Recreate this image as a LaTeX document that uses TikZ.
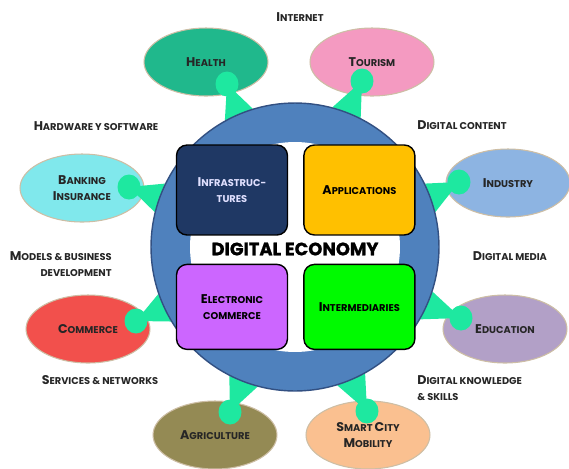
\documentclass[tikz,border=0pt]{standalone}
\usepackage{fontspec}
\setmainfont{Poppins}
\usetikzlibrary{positioning, shapes.geometric, calc}
\pgfdeclarelayer{background}
\pgfsetlayers{background,main}
\newcommand{\SC}[2]{{\fontsize{7.2}{9.2}\selectfont #1}{\fontsize{5.6}{9.2}\selectfont #2}}
\definecolor{hubblue}{RGB}{79,129,189}
\definecolor{hubrim}{RGB}{50,80,130}
\definecolor{rim}{RGB}{205,190,165}
\definecolor{tailgreen}{RGB}{30,232,160}
\definecolor{healthc}{RGB}{32,184,140}
\definecolor{tourismc}{RGB}{244,154,193}
\definecolor{bankingc}{RGB}{128,232,236}
\definecolor{industryc}{RGB}{141,180,226}
\definecolor{commercec}{RGB}{242,80,76}
\definecolor{educationc}{RGB}{178,160,199}
\definecolor{agric}{RGB}{148,138,84}
\definecolor{smartc}{RGB}{250,192,144}
\definecolor{infrac}{RGB}{31,56,100}
\definecolor{appsc}{RGB}{255,192,0}
\definecolor{ecommc}{RGB}{204,102,255}
\definecolor{interc}{RGB}{0,250,0}
\tikzset{
    balloon/.style={ellipse, draw=rim, line width=0.6pt, inner sep=0pt,
        minimum width=2.48cm, minimum height=1.36cm, align=center,
        text=black!85, font=\bfseries\fontsize{5.6}{9.2}\selectfont},
    tag/.style={inner sep=0pt, align=center, text=black!85, font=\bfseries\fontsize{5.6}{9.2}\selectfont},
    quad/.style={rectangle, rounded corners=6pt, draw=black, line width=0.8pt,
        minimum width=2.22cm, align=center, font=\bfseries\fontsize{5.6}{9.2}\selectfont},
    tail/.style={fill=tailgreen},
}

\begin{document}
\begin{tikzpicture}[x=0.02cm, y=-0.02cm]
    \useasboundingbox (0,0) rectangle (569,468);

    % hub and the four blocks
    \node[circle, fill=hubblue, draw=hubrim, line width=0.8pt, minimum size=5.76cm, inner sep=0pt] (hub) at (295,247) {};
    \node[circle, fill=white, minimum size=4.2cm, inner sep=0pt] (core) at (hub.center) {};

    \node[quad, fill=infrac, minimum height=1.8cm, text=white!88!blue] (infra) at (232,190) {\SC{I}{NFRASTRUC-}\\\SC{}{TURES}};
    \node[quad, fill=appsc, minimum height=1.8cm, right=0.3cm of infra] (apps) {\SC{A}{PPLICATIONS}};
    \node[quad, fill=ecommc, minimum height=1.7cm, below=0.56cm of infra] (ecomm) {\SC{E}{LECTRONIC}\\\SC{}{COMMERCE}};
    \node[quad, fill=interc, minimum height=1.7cm, right=0.3cm of ecomm] (inter) {\SC{I}{NTERMEDIARIES}};

    \node[inner sep=0pt, font=\bfseries\fontsize{10.2}{12}\selectfont\addfontfeatures{FakeBold=1}] (title) at (295,249) {DIGITAL ECONOMY};

    % balloons and their tails
    \begin{pgfonlayer}{background}
    \node[balloon, fill=healthc] (health) at (206,62) {\SC{H}{EALTH}};
    \node[balloon, fill=tourismc] (tourism) at (372,62) {\SC{T}{OURISM}};
    \node[balloon, fill=bankingc] (banking) at (82,188) {\SC{B}{ANKING}\\\SC{I}{NSURANCE}};
    \node[balloon, fill=industryc] (industry) at (508,183) {\SC{I}{NDUSTRY}};
    \node[balloon, fill=commercec] (commerce) at (88,329) {\SC{C}{OMMERCE}};
    \node[balloon, fill=educationc] (education) at (505,329) {\SC{E}{DUCATION}};
    \node[balloon, fill=agric] (agri) at (215,435) {\SC{A}{GRICULTURE}};
    \node[balloon, fill=smartc] (smart) at (368,435) {\SC{S}{MART} \SC{C}{ITY}\\\SC{M}{OBILITY}};

    \foreach \bx/\by/\ang [evaluate=\ang as \aa using int(\ang-6), evaluate=\ang as \ab using int(\ang+6)]
        in {227/84/113, 362/81/69, 129/187/160, 459/182/20, 136/321/205, 461/318/336, 230/412/249, 367/411/293} {
        \fill[tail] (\bx,\by) -- (hub.\aa) -- (hub.\ab) -- cycle;
        \fill[tail] (\bx,\by) ellipse [x radius=11.5, y radius=12.5];
    }
    \end{pgfonlayer}

    % outer labels
    \node[tag] (internet) at (300,17) {\SC{I}{NTERNET}};
    \node[tag] (hardware) at (96,126) {\SC{H}{ARDWARE Y SOFTWARE}};
    \node[tag] (content) at (462,125) {\SC{D}{IGITAL CONTENT}};
    \node[tag, anchor=east, align=right] (models) at (112,264) {\SC{M}{ODELS \& BUSINESS}\\\SC{}{DEVELOPMENT}};
    \node[tag] (media) at (510,256) {\SC{D}{IGITAL MEDIA}};
    \node[tag] (services) at (100,380) {\SC{S}{ERVICES \& NETWORKS}};
    \node[tag, anchor=west, align=left] (knowledge) at (417,388) {\SC{D}{IGITAL KNOWLEDGE}\\\SC{}{\& SKILLS}};
\end{tikzpicture}
\end{document}
